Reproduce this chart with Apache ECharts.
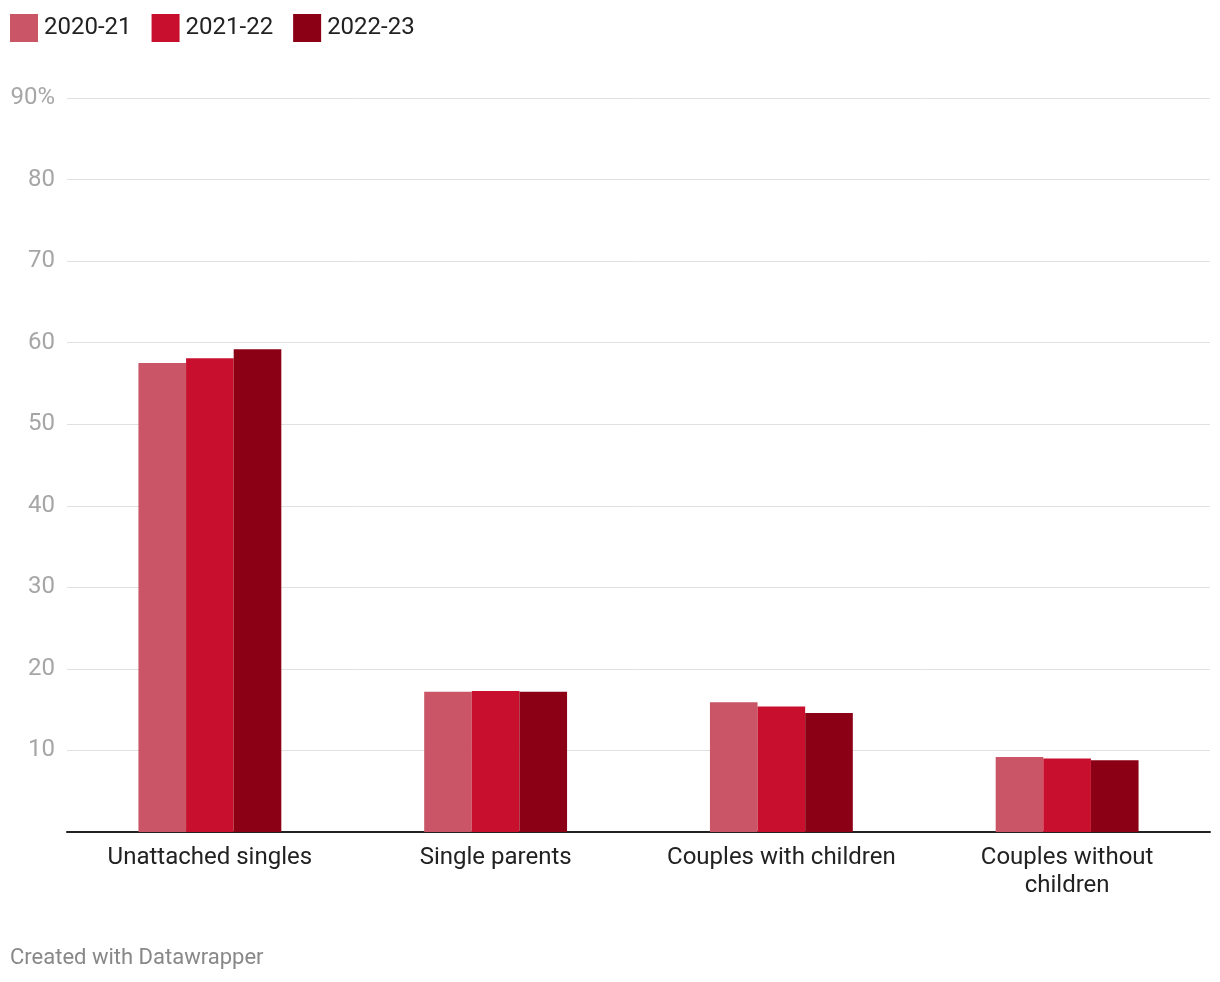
<!DOCTYPE html>
<html>
<head>
<meta charset="utf-8">
<script src="https://cdn.jsdelivr.net/npm/echarts@6/dist/echarts.min.js"></script>
<style>
  html, body { margin: 0; padding: 0; background: #fff; }
  #chart { width: 1220px; height: 982px; }
</style>
</head>
<body>
<div id="chart"></div>
<script>
const categories = ['Unattached singles', 'Single parents', 'Couples with children', 'Couples without\nchildren'];
const seriesNames = ['2020-21', '2021-22', '2022-23'];
const values2020 = [57.5, 17.2, 15.9, 9.2];
const values2021 = [58.1, 17.3, 15.4, 9.0];
const values2022 = [59.2, 17.2, 14.6, 8.8];
const yTicks = [0, 10, 20, 30, 40, 50, 60, 70, 80, 90];
const colors = ['#c95566', '#c8102e', '#8b0015'];

const chart = echarts.init(document.getElementById('chart'), null, { renderer: 'canvas' });
const seriesData = [values2020, values2021, values2022];

chart.setOption({
  animation: false,
  textStyle: { fontFamily: 'Roboto' },
  color: colors,
  legend: {
    left: 10, top: 14, padding: 0,
    itemWidth: 28, itemHeight: 28, itemGap: 20,
    icon: 'rect',
    textStyle: { fontSize: 24, color: '#222', fontFamily: 'Roboto', padding: [0, 0, 0, 1] },
    data: seriesNames
  },
  grid: { left: 67, right: 10, top: 98, bottom: 150, containLabel: false },
  xAxis: {
    type: 'category',
    data: categories,
    axisLine: { lineStyle: { color: '#222', width: 2 } },
    axisTick: { show: false },
    axisLabel: { fontSize: 24, color: '#222', fontFamily: 'Roboto', margin: 12, lineHeight: 28, interval: 0 }
  },
  yAxis: {
    type: 'value',
    min: yTicks[0], max: yTicks[yTicks.length - 1], interval: 10,
    axisLine: { show: false },
    axisTick: { show: false },
    splitLine: { lineStyle: { color: '#e0e0e0', width: 1 } },
    axisLabel: {
      fontSize: 24, color: '#a6a6a6', fontFamily: 'Roboto', margin: 12, padding: [3, 0, 0, 0],
      formatter: function (v) {
        if (v === yTicks[0]) return '';
        if (v === yTicks[yTicks.length - 1]) return v + '%';
        return String(v);
      }
    }
  },
  graphic: [{
    type: 'text', left: 10, top: 947,
    style: { text: 'Created with Datawrapper', fill: '#888', font: '22px Roboto' }
  }],
  series: seriesNames.map((name, i) => ({
    name: name,
    type: 'bar',
    data: seriesData[i],
    barGap: '0%',
    barCategoryGap: '50%',
    itemStyle: { color: colors[i] }
  }))
});
</script>
</body>
</html>
